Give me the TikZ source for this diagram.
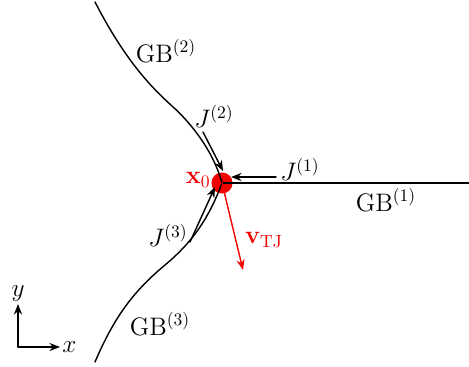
\documentclass[tikz,border=0pt]{standalone}
\usepackage{amsmath,amssymb,bm}
\usetikzlibrary{arrows.meta,calc,positioning}
\definecolor{fg}{RGB}{0,0,0}
\definecolor{acc}{RGB}{240,0,0}
\tikzset{
  every picture/.style={fg, line width=0.8pt, line cap=round, line join=round,
    >={Stealth[length=6pt,width=4.6pt]}},
  every node/.style={font=\Large},
  % Linientypen
  gb/.style={line width=0.8pt},
  flux/.style={line width=0.8pt, ->},
  axis/.style={line width=0.8pt, ->},
  vel/.style={acc, line width=0.8pt, ->},
  % Tripelpunkt
  tj/.style={circle, fill=acc, inner sep=0pt, minimum size=12pt},
}
\begin{document}
\begin{tikzpicture}[x=0.02cm, y=-0.02cm]
  \useasboundingbox (0,0) rectangle (469,366);
  % Tripelpunkt
  \node[tj] (x0) at (222,183) {};
  \node[acc, anchor=east, inner sep=1pt] (x0lbl) at (213,180) {$\mathbf{x}_0$};
  % Korngrenzen
  \draw[gb] (x0.center) -- (469,183);
  \draw[gb] (95,2) .. controls (125,60) and (150,86) .. (172,106)
    .. controls (190,122) and (213,150) .. (x0.center);
  \draw[gb] (95,362) .. controls (115,315) and (135,290) .. (165,265)
    .. controls (195,240) and (210,215) .. (x0.center);
  \node (gb1) at (386,200) {$\mathrm{GB}^{(1)}$};
  \node (gb2) at (166,51) {$\mathrm{GB}^{(2)}$};
  \node (gb3) at (160,324) {$\mathrm{GB}^{(3)}$};
  % Fluesse
  \coordinate (j1s) at (276,177);
  \coordinate (j1e) at (231,177);
  \coordinate (j2s) at (203,132);
  \coordinate (j2e) at (223,171);
  \coordinate (j3s) at (190,242);
  \coordinate (j3e) at (215,187);
  \draw[flux] (j1s) -- (j1e);
  \draw[flux] (j2s) -- (j2e);
  \draw[flux] (j3s) -- (j3e);
  \node (j1) at (300,169) {$J^{(1)}$};
  \node (j2) at (214,116) {$J^{(2)}$};
  \node (j3) at (168,235) {$J^{(3)}$};
  % Geschwindigkeit
  \coordinate (vend) at (243,270);
  \draw[vel] (x0.center) -- (vend);
  \node[acc] (vlbl) at (264,240) {$\mathbf{v}_{\mathrm{TJ}}$};
  % Achsen
  \coordinate (o) at (18,347);
  \coordinate (ey) at (18,304);
  \coordinate (ex) at (60,347);
  \draw[axis] (o) -- (ey);
  \draw[axis] (o) -- (ex);
  \node[anchor=south, inner sep=1pt] (ylbl) at (ey) {$y$};
  \node[anchor=west, inner sep=1pt] (xlbl) at (ex) {$x$};
\end{tikzpicture}
\end{document}
